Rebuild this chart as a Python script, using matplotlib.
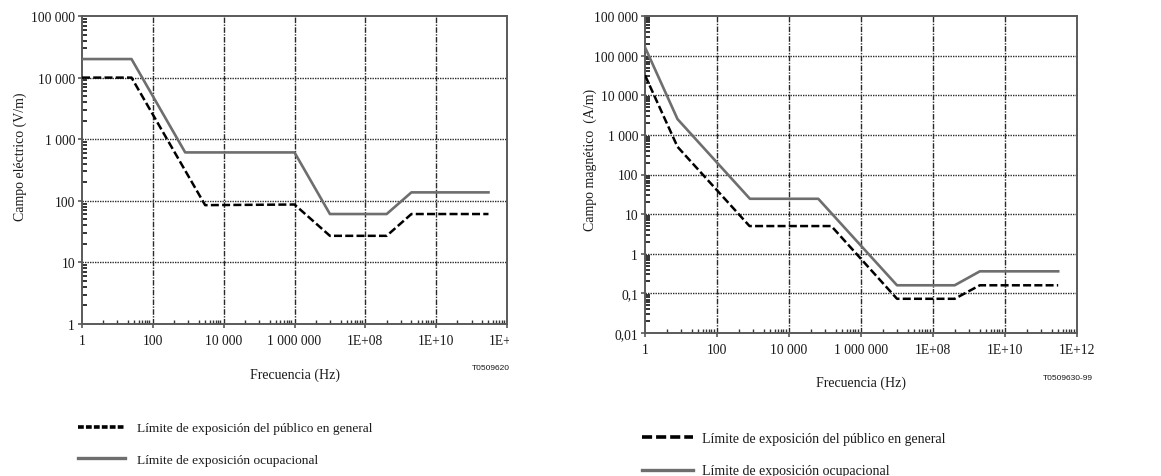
import matplotlib
matplotlib.use("Agg")
import matplotlib.pyplot as plt
import numpy as np
from matplotlib.ticker import FixedLocator, LogLocator, NullFormatter
from matplotlib.lines import Line2D
from matplotlib.transforms import Bbox, TransformedBbox

# ---------------- data ----------------
# Electric field (V/m)
e_freq_occ = [1, 25, 820, 1e6, 1e7, 4e8, 2e9, 3e11]
e_occ = [20000, 20000, 610, 610, 61, 61, 137, 137]
e_freq_pub = [1, 25, 3000, 1e6, 1e7, 4e8, 2e9, 3e11]
e_pub = [10000, 10000, 85, 87, 27, 27, 61, 61]

# Magnetic field (A/m)
h_freq_occ = [1, 8, 820, 65000, 1e7, 4e8, 2e9, 3e11]
h_occ = [163000, 2500, 24.4, 24.4, 0.16, 0.16, 0.36, 0.36]
h_freq_pub = [1, 8, 800, 150000, 1e7, 4e8, 2e9, 3e11]
h_pub = [32000, 500, 5, 5, 0.073, 0.073, 0.16, 0.16]

x_ticks = [1, 1e2, 1e4, 1e6, 1e8, 1e10, 1e12]
x_ticklabels = ["1", "100", "10 000", "1 000 000", "1E+08", "1E+10", "1E+12"]
e_yticks = [1, 10, 100, 1e3, 1e4, 1e5]
e_yticklabels = ["1", "10", "100", "1 000", "10 000", "100 000"]
h_yticks = [0.01, 0.1, 1, 10, 100, 1e3, 1e4, 1e5, 1e6]
h_yticklabels = ["0,01", "0,1", "1", "10", "100", "1 000", "10 000", "100 000", "100 000"]

label_pub = "Límite de exposición del público en general"
label_occ = "Límite de exposición ocupacional"

# ---------------- style ----------------
plt.rcParams['font.family'] = ['Liberation Serif', 'DejaVu Serif']
W, H = 1161, 477
fig = plt.figure(figsize=(W / 100, H / 100), dpi=100)

def fx(px):
    return px / W

def fy(py):
    return 1 - py / H

TXT = "#1a1a1a"
OCC_COLOR = "#6e6e6e"
GRID_COLOR = "#2a2a2a"
SPINE_COLOR = "#5a5a5a"


def setup_axes(ax, yticks, yticklabels):
    ax.set_xscale("log")
    ax.set_yscale("log")
    ax.set_xlim(1, 1e12)
    ax.set_ylim(yticks[0], yticks[-1])
    ax.xaxis.set_major_locator(FixedLocator(x_ticks))
    ax.set_xticklabels(x_ticklabels)
    ax.xaxis.set_minor_locator(LogLocator(base=100, subs=(4, 10, 20, 30, 40, 50, 60, 70, 80), numticks=50))
    ax.xaxis.set_minor_formatter(NullFormatter())
    ax.yaxis.set_major_locator(FixedLocator(yticks))
    ax.set_yticklabels(yticklabels)
    ax.yaxis.set_minor_locator(LogLocator(base=10, subs=np.arange(2, 10), numticks=50))
    ax.yaxis.set_minor_formatter(NullFormatter())
    ax.tick_params(axis="both", which="major", labelsize=9.8, colors=SPINE_COLOR,
                   labelcolor=TXT, width=1.2, length=3, direction="out", pad=2)
    ax.tick_params(axis="x", which="major", pad=4)
    ax.tick_params(axis="y", which="minor", direction="in", length=3.5, width=1.4, color="#333333")
    ax.tick_params(axis="x", which="minor", direction="in", length=3, width=1.0, color="#333333")
    for s in ax.spines.values():
        s.set_color(SPINE_COLOR)
        s.set_linewidth(1.4)
    for yv in yticks[1:-1]:
        ax.axhline(yv, color=GRID_COLOR, lw=1.0, ls=(0, (1, 0.8)), zorder=1)
    for xv in x_ticks[1:-1]:
        ax.axvline(xv, color=GRID_COLOR, lw=1.0, ls=(0, (4, 1, 1, 1)), zorder=1)


# ---------------- left chart ----------------
ax1 = fig.add_axes([fx(82), fy(325), fx(507 - 82), (325 - 17) / H])
setup_axes(ax1, e_yticks, e_yticklabels)
ax1.plot(e_freq_occ, e_occ, color=OCC_COLOR, lw=1.9, zorder=3)
ax1.plot(e_freq_pub, e_pub, color="black", lw=1.8, ls=(0, (3.2, 1.3)), zorder=4)
ax1.set_xlabel("Frecuencia (Hz)", fontsize=10, color=TXT)
ax1.xaxis.set_label_coords(0.5, (325 - 369) / (325 - 17))
ax1.set_ylabel("Campo eléctrico (V/m)", fontsize=10, color=TXT)
ax1.yaxis.set_label_coords((27 - 82) / (507 - 82), (325 - 157) / (325 - 17))

# clip the left chart's texts at its image edge
clipbox = TransformedBbox(Bbox([[0, 0], [fx(509), 1]]), fig.transFigure)
for t in ax1.xaxis.get_major_ticks():
    t.label1.set_clip_box(clipbox)
    t.label1.set_clip_on(True)

code1 = fig.text(fx(472), fy(369), "T0509620-99", fontsize=6, family="Liberation Sans",
                 color=TXT, ha="left", va="center")
code1.set_clip_box(clipbox)
code1.set_clip_on(True)

h_pub_leg1 = Line2D([], [], color="black", lw=2.6, ls=(0, (1.6, 0.6)))
h_occ_leg1 = Line2D([], [], color=OCC_COLOR, lw=2.4)
ax1.legend([h_pub_leg1, h_occ_leg1], [label_pub, label_occ], loc="upper left",
           bbox_to_anchor=(fx(78), fy(423)), bbox_transform=fig.transFigure,
           frameon=False, fontsize=9.6, handlelength=3.5, handletextpad=0.9,
           labelspacing=1.45, borderpad=0, borderaxespad=0, labelcolor=TXT)

# ---------------- right chart ----------------
ax2 = fig.add_axes([fx(645), fy(334), fx(1077 - 645), (334 - 17) / H])
setup_axes(ax2, h_yticks, h_yticklabels)
ax2.plot(h_freq_occ, h_occ, color=OCC_COLOR, lw=1.9, zorder=3)
ax2.plot(h_freq_pub, h_pub, color="black", lw=1.8, ls=(0, (3.2, 1.3)), zorder=4)
ax2.set_xlabel("Frecuencia (Hz)", fontsize=10, color=TXT)
ax2.xaxis.set_label_coords(0.5, (334 - 377) / (334 - 17))
ax2.set_ylabel("Campo magnético  (A/m)", fontsize=10, color=TXT)
ax2.yaxis.set_label_coords((597 - 645) / (1077 - 645), (334 - 160) / (334 - 17))

fig.text(fx(1043), fy(378), "T0509630-99", fontsize=6, family="Liberation Sans",
         color=TXT, ha="left", va="center")

h_pub_leg2 = Line2D([], [], color="black", lw=2.6, ls=(0, (2.8, 1.1)))
h_occ_leg2 = Line2D([], [], color=OCC_COLOR, lw=2.4)
ax2.legend([h_pub_leg2, h_occ_leg2], [label_pub, label_occ], loc="upper left",
           bbox_to_anchor=(fx(642), fy(433)), bbox_transform=fig.transFigure,
           frameon=False, fontsize=10, handlelength=3.7, handletextpad=0.65,
           labelspacing=1.4, borderpad=0, borderaxespad=0, labelcolor=TXT)

fig.savefig("out.png", dpi=100, facecolor="white")
